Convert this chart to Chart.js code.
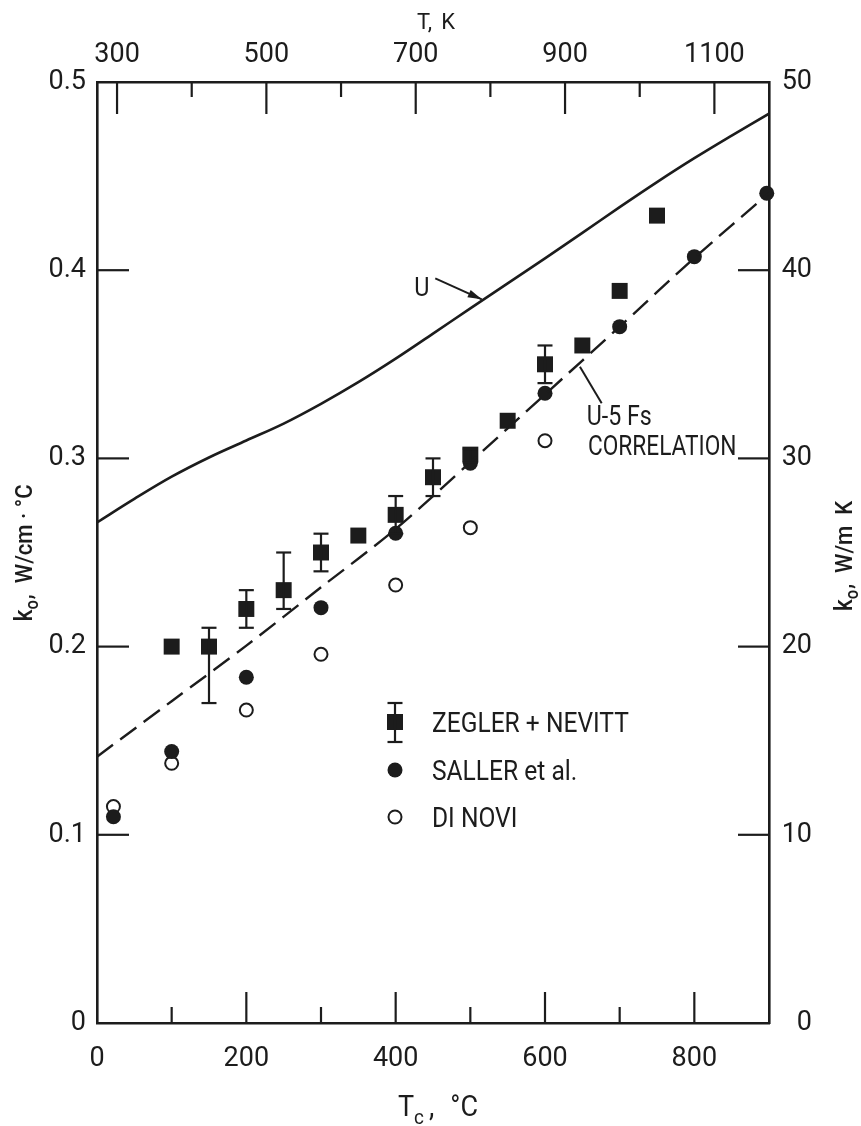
<!DOCTYPE html>
<html>
<head>
<meta charset="utf-8">
<title>Thermal conductivity of U-5 Fs</title>
<script src="https://cdn.jsdelivr.net/npm/chart.js@4/dist/chart.umd.min.js"></script>
<style>
  html, body { margin: 0; padding: 0; background: #ffffff; }
  canvas { display: block; }
</style>
</head>
<body>
<canvas id="chart" width="861" height="1126"></canvas>
<script>
// ---- data: temperature in °C, conductivity k0 in W/cm·°C ----
const uCurveT = [0, 50, 100, 150, 200, 250, 300, 350, 400, 450, 500, 550, 600, 650, 700, 750, 800, 850, 900];
const uCurveK = [0.266, 0.2785, 0.2903, 0.3005, 0.3095, 0.3185, 0.329, 0.3405, 0.353, 0.3663, 0.3797, 0.393, 0.4063, 0.4198, 0.4335, 0.4468, 0.4595, 0.4715, 0.4832];

const corrT = [0, 100, 200, 300, 400, 500, 600, 700, 800, 900];
const corrK = [0.1415, 0.171, 0.2005, 0.2315, 0.2625, 0.298, 0.334, 0.370, 0.4065, 0.441];

const zeglerT    = [100, 150, 200, 250, 300, 350, 400, 450, 500, 550, 600, 650, 700, 750];
const zeglerK    = [0.200, 0.200, 0.220, 0.230, 0.250, 0.259, 0.270, 0.290, 0.302, 0.320, 0.350, 0.360, 0.389, 0.429];
const zeglerLow  = [null, 0.170, 0.210, 0.220, 0.240, null, 0.260, 0.280, 0.298, null, 0.340, null, null, null];
const zeglerHigh = [null, 0.210, 0.230, 0.250, 0.260, null, 0.280, 0.300, 0.305, null, 0.360, null, null, null];

const sallerT = [22, 100, 200, 300, 400, 500, 600, 700, 800, 897];
const sallerK = [0.1096, 0.1442, 0.1837, 0.2207, 0.2602, 0.2974, 0.3346, 0.370, 0.4072, 0.4409];

const diNoviT = [22, 100, 200, 300, 400, 500, 600];
const diNoviK = [0.115, 0.138, 0.1663, 0.1959, 0.2327, 0.2632, 0.3094];

// ---- axis ticks ----
const celsiusTicks = [0, 100, 200, 300, 400, 500, 600, 700, 800];
const kelvinTicks  = [300, 400, 500, 600, 700, 800, 900, 1000, 1100];
const kTicksCgs    = [0, 0.1, 0.2, 0.3, 0.4, 0.5];
const kTicksSi     = [0, 10, 20, 30, 40, 50];

const INK = '#1c1c1c';
const FONT = 'Roboto, "Liberation Sans", sans-serif';

const pts = (xs, ys) => xs.map((x, i) => ({ x: x, y: ys[i] }));

function drawRuns(ctx, runs, x, y, opts) {
  opts = opts || {};
  const sx = opts.sx || 1;
  ctx.save();
  ctx.fillStyle = INK;
  ctx.textBaseline = 'alphabetic';
  ctx.textAlign = 'left';
  let total = 0;
  runs.forEach(r => {
    ctx.font = `${r.weight || 'normal'} ${r.size}px ${FONT}`;
    r.w = ctx.measureText(r.t).width * sx + (r.gap || 0);
    total += r.w;
  });
  ctx.translate(x, y);
  if (opts.rot) ctx.rotate(opts.rot);
  let cx = opts.align === 'left' ? 0 : -total / 2;
  runs.forEach(r => {
    ctx.font = `${r.weight || 'normal'} ${r.size}px ${FONT}`;
    ctx.save();
    ctx.translate(cx, r.dy || 0);
    ctx.scale(sx, 1);
    ctx.fillText(r.t, 0, 0);
    ctx.restore();
    cx += r.w;
  });
  ctx.restore();
}

function seg(ctx, x1, y1, x2, y2) {
  ctx.beginPath();
  ctx.moveTo(x1, y1);
  ctx.lineTo(x2, y2);
  ctx.stroke();
}

// tick marks pointing into the plot
const inwardTicks = {
  id: 'inwardTicks',
  afterDraw(chart) {
    const ctx = chart.ctx, a = chart.chartArea, s = chart.scales;
    ctx.save();
    ctx.strokeStyle = INK;
    ctx.lineWidth = 2.2;
    celsiusTicks.forEach(v => {
      if (v === 0) return;
      const px = s.x.getPixelForValue(v);
      seg(ctx, px, a.bottom, px, a.bottom - (v % 200 === 0 ? 31 : 16));
    });
    kelvinTicks.forEach(v => {
      const px = s.xK.getPixelForValue(v);
      seg(ctx, px, a.top, px, a.top + ((v - 300) % 200 === 0 ? 32 : 15));
    });
    kTicksCgs.forEach(v => {
      if (v === 0 || v === 0.5) return;
      const py = s.y.getPixelForValue(v);
      seg(ctx, a.left, py, a.left + 32, py);
    });
    kTicksSi.forEach(v => {
      if (v === 0 || v === 50) return;
      const py = s.ySI.getPixelForValue(v);
      seg(ctx, a.right, py, a.right - 31, py);
    });
    ctx.restore();
  }
};

// error bars on the Zegler + Nevitt points
const errorBars = {
  id: 'errorBars',
  afterDatasetsDraw(chart) {
    const ctx = chart.ctx, sx = chart.scales.x, sy = chart.scales.y;
    ctx.save();
    ctx.strokeStyle = INK;
    ctx.lineWidth = 2.2;
    zeglerT.forEach((t, i) => {
      if (zeglerLow[i] == null) return;
      const px = sx.getPixelForValue(t);
      const lo = sy.getPixelForValue(zeglerLow[i]);
      const hi = sy.getPixelForValue(zeglerHigh[i]);
      seg(ctx, px, lo, px, hi);
      seg(ctx, px - 7.5, lo, px + 7.5, lo);
      seg(ctx, px - 7.5, hi, px + 7.5, hi);
    });
    ctx.restore();
  }
};

// axis titles, curve labels and the key
const labels = {
  id: 'labels',
  afterDraw(chart) {
    const ctx = chart.ctx, sx = chart.scales.x, sy = chart.scales.y;
    const X = v => sx.getPixelForValue(v), Y = v => sy.getPixelForValue(v);

    // axis titles
    drawRuns(ctx, [{ t: 'T,', size: 22, gap: 9 }, { t: 'K', size: 22 }], 436, 29);
    drawRuns(ctx, [
      { t: 'T', size: 30 },
      { t: 'c', size: 21, dy: 8, gap: 5 },
      { t: ',', size: 30, gap: 16 },
      { t: '°C', size: 30 }
    ], 438, 1116, { sx: 0.9 });
    drawRuns(ctx, [
      { t: 'k', size: 25, weight: '500' },
      { t: 'o', size: 18, dy: 6, weight: '500', gap: 1 },
      { t: ',  W/cm · °C', size: 24, weight: '500' }
    ], 32, 553, { rot: -Math.PI / 2, sx: 0.92 });
    drawRuns(ctx, [
      { t: 'k', size: 25, weight: '500' },
      { t: 'o', size: 18, dy: 6, weight: '500', gap: 1 },
      { t: ',  W/m  K', size: 24, weight: '500' }
    ], 852, 556, { rot: -Math.PI / 2, sx: 0.92 });

    // "U" with arrow to the solid curve
    drawRuns(ctx, [{ t: 'U', size: 26 }], X(435), Y(0.3862), { sx: 0.9 });
    ctx.save();
    ctx.strokeStyle = INK; ctx.fillStyle = INK; ctx.lineWidth = 2;
    const ax = X(453), ay = Y(0.3957), bx = X(515.3), by = Y(0.3845);
    seg(ctx, ax, ay, bx, by);
    const ang = Math.atan2(by - ay, bx - ax);
    ctx.beginPath();
    ctx.moveTo(bx, by);
    ctx.lineTo(bx - 14 * Math.cos(ang) + 4 * Math.sin(ang), by - 14 * Math.sin(ang) - 4 * Math.cos(ang));
    ctx.lineTo(bx - 14 * Math.cos(ang) - 4 * Math.sin(ang), by - 14 * Math.sin(ang) + 4 * Math.cos(ang));
    ctx.closePath();
    ctx.fill();
    // leader line to the correlation curve
    seg(ctx, X(646.8), Y(0.3487), X(675.9), Y(0.3293));
    ctx.restore();
    drawRuns(ctx, [{ t: 'U-5 Fs', size: 27 }], X(655.8), Y(0.3178), { sx: 0.86, align: 'left' });
    drawRuns(ctx, [{ t: 'CORRELATION', size: 27 }], X(657.5), Y(0.3018), { sx: 0.84, align: 'left' });

    // key
    ctx.save();
    ctx.fillStyle = INK; ctx.strokeStyle = INK; ctx.lineWidth = 2.2;
    const kx = 395;
    ctx.fillRect(kx - 8, 722 - 8, 16, 16);
    seg(ctx, kx, 703, kx, 742);
    seg(ctx, kx - 7.5, 703, kx + 7.5, 703);
    seg(ctx, kx - 7.5, 742, kx + 7.5, 742);
    ctx.beginPath(); ctx.arc(kx, 770, 7.5, 0, Math.PI * 2); ctx.fill();
    ctx.fillStyle = '#ffffff'; ctx.lineWidth = 2;
    ctx.beginPath(); ctx.arc(kx, 817, 6.5, 0, Math.PI * 2); ctx.fill(); ctx.stroke();
    ctx.restore();
    drawRuns(ctx, [{ t: 'ZEGLER + NEVITT', size: 27 }], 432, 732, { sx: 0.91, align: 'left' });
    drawRuns(ctx, [{ t: 'SALLER et al.', size: 27 }], 432, 780, { sx: 0.91, align: 'left' });
    drawRuns(ctx, [{ t: 'DI NOVI', size: 27 }], 432, 827, { sx: 0.91, align: 'left' });
  }
};

const tickFont = { family: FONT, size: 27 };
const setTicks = list => scale => { scale.ticks = list.map(v => ({ value: v })); };

new Chart(document.getElementById('chart'), {
  type: 'scatter',
  data: {
    datasets: [
      {
        label: 'U',
        data: pts(uCurveT, uCurveK),
        showLine: true,
        borderColor: INK,
        borderWidth: 2.6,
        pointRadius: 0,
        tension: 0.35,
        xAxisID: 'x', yAxisID: 'y'
      },
      {
        label: 'U-5 Fs correlation',
        data: pts(corrT, corrK),
        showLine: true,
        borderColor: INK,
        borderWidth: 2.4,
        borderDash: [20, 9],
        pointRadius: 0,
        tension: 0.3,
        xAxisID: 'x', yAxisID: 'y'
      },
      {
        label: 'ZEGLER + NEVITT',
        data: pts(zeglerT, zeglerK),
        pointStyle: 'rect',
        pointRadius: 11.3,
        backgroundColor: INK,
        borderColor: INK,
        borderWidth: 0,
        xAxisID: 'x', yAxisID: 'y'
      },
      {
        label: 'SALLER et al.',
        data: pts(sallerT, sallerK),
        pointStyle: 'circle',
        pointRadius: 7.5,
        backgroundColor: INK,
        borderColor: INK,
        borderWidth: 0,
        clip: false,
        xAxisID: 'x', yAxisID: 'y'
      },
      {
        label: 'DI NOVI',
        data: pts(diNoviT, diNoviK),
        pointStyle: 'circle',
        pointRadius: 6.5,
        backgroundColor: '#ffffff',
        borderColor: INK,
        borderWidth: 2,
        xAxisID: 'x', yAxisID: 'y'
      }
    ]
  },
  options: {
    responsive: false,
    animation: false,
    events: [],
    layout: { padding: { left: 0, right: 49, top: 0, bottom: 0 } },
    plugins: { legend: { display: false }, tooltip: { enabled: false } },
    scales: {
      x: {
        type: 'linear', position: 'bottom', min: 0, max: 900,
        afterBuildTicks: setTicks(celsiusTicks),
        afterFit: s => { s.height = 103; },
        grid: { display: false, drawTicks: false },
        border: { display: true, color: INK, width: 2.6 },
        ticks: {
          autoSkip: false, maxRotation: 0, padding: 20, color: INK, font: tickFont,
          callback: v => (v % 200 === 0 ? String(v) : '')
        }
      },
      xK: {
        type: 'linear', position: 'top', min: 273.15, max: 1173.15,
        afterBuildTicks: setTicks(kelvinTicks),
        afterFit: s => { s.height = 82; },
        grid: { display: false, drawTicks: false },
        border: { display: true, color: INK, width: 2.6 },
        ticks: {
          autoSkip: false, maxRotation: 0, padding: 11, color: INK, font: tickFont,
          callback: v => ((v - 300) % 200 === 0 ? String(v) : '')
        }
      },
      y: {
        type: 'linear', position: 'left', min: 0, max: 0.5,
        afterBuildTicks: setTicks(kTicksCgs),
        afterFit: s => { s.width = 97; },
        grid: { display: false, drawTicks: false },
        border: { display: true, color: INK, width: 2.6 },
        ticks: {
          padding: 11, color: INK, font: tickFont,
          callback: v => (v === 0 ? '0' : v.toFixed(1))
        }
      },
      ySI: {
        type: 'linear', position: 'right', min: 0, max: 50,
        afterBuildTicks: setTicks(kTicksSi),
        afterFit: s => { s.width = 43; },
        grid: { display: false, drawTicks: false },
        border: { display: true, color: INK, width: 2.6 },
        ticks: {
          padding: 14, color: INK, font: tickFont, crossAlign: 'far',
          callback: v => String(v)
        }
      }
    }
  },
  plugins: [inwardTicks, errorBars, labels]
});
</script>
</body>
</html>
